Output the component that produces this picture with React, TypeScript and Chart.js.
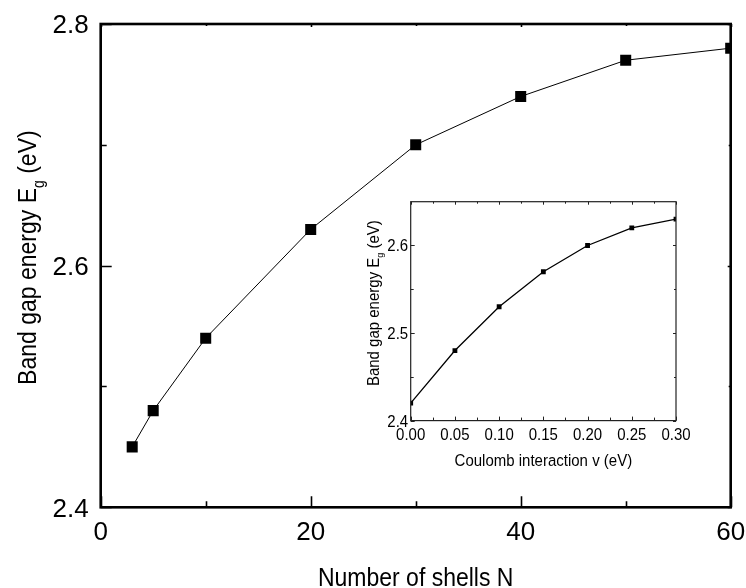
import React, { useEffect, useRef } from "react";
import { Chart, registerables } from "chart.js";

Chart.register(...registerables);

// Band gap vs. number of shells (main plot)
const shellCounts = [3, 5, 10, 20, 30, 40, 50, 60];
const gapByShells = [2.45, 2.48, 2.54, 2.63, 2.7, 2.74, 2.77, 2.78];

// Band gap vs. Coulomb interaction (inset)
const coulombV = [0, 0.05, 0.1, 0.15, 0.2, 0.25, 0.3];
const gapByCoulomb = [2.42, 2.48, 2.53, 2.57, 2.6, 2.62, 2.63];

// Tick values
const mainXMajor = [0, 20, 40, 60];
const mainXMinor = [10, 30, 50];
const mainYMajor = [2.4, 2.6, 2.8];
const mainYMinor = [2.5, 2.7];
const insetXMajor = [0, 0.05, 0.1, 0.15, 0.2, 0.25, 0.3];
const insetXMinor = [0.025, 0.075, 0.125, 0.175, 0.225, 0.275];
const insetYMajor = [2.4, 2.5, 2.6];
const insetYMinor = [2.45, 2.55];

const FONT = '"Liberation Sans", Arial, Helvetica, sans-serif';

type TextPart = { text: string; size: number; dy: number };

interface AxesStyle {
  frameWidth: number;
  frameColor: string;
  tickWidth: number;
  majorLen: number;
  minorLen: number;
  oppMajorLen: number;
  oppMinorLen: number;
  xMajor: number[];
  xMinor: number[];
  yMajor: number[];
  yMinor: number[];
  xDigits: number;
  yDigits: number;
  tickFont: number;
  textScaleY: number;
  titleScaleY: number;
  xLabelGap: number; // baseline distance below the bottom axis
  yLabelGap: number; // right edge distance left of the left axis
  xTitle: TextPart[];
  yTitle: TextPart[];
  xTitleBaseline: number; // distance of baseline below the bottom axis
  yTitleBaseline: number; // x position (canvas) of rotated baseline
  yTitleShift: number; // vertical shift of the rotated title's centre
}

function partsWidth(ctx: CanvasRenderingContext2D, parts: TextPart[]) {
  let w = 0;
  for (const p of parts) {
    ctx.font = `${p.size}px ${FONT}`;
    w += ctx.measureText(p.text).width;
  }
  return w;
}

function drawParts(ctx: CanvasRenderingContext2D, parts: TextPart[]) {
  const total = partsWidth(ctx, parts);
  let x = -total / 2;
  for (const p of parts) {
    ctx.font = `${p.size}px ${FONT}`;
    ctx.fillText(p.text, x, p.dy);
    x += ctx.measureText(p.text).width;
  }
}

function makeAxesPlugin(s: AxesStyle) {
  return {
    id: "framedAxes",
    afterDatasetsDraw(chart: any) {
      const { ctx, chartArea: a, scales } = chart;
      const sx = scales.x;
      const sy = scales.y;
      ctx.save();
      ctx.strokeStyle = s.frameColor;
      ctx.fillStyle = "#000";

      // inward ticks on all four sides
      ctx.lineWidth = s.tickWidth;
      ctx.beginPath();
      const xTicks = (vals: number[], len: number, opp: number) => {
        for (const v of vals) {
          const px = Math.round(sx.getPixelForValue(v)) + 0.5;
          ctx.moveTo(px, a.bottom);
          ctx.lineTo(px, a.bottom - len);
          if (opp > 0) {
            ctx.moveTo(px, a.top);
            ctx.lineTo(px, a.top + opp);
          }
        }
      };
      const yTicks = (vals: number[], len: number, opp: number) => {
        for (const v of vals) {
          const py = Math.round(sy.getPixelForValue(v)) + 0.5;
          ctx.moveTo(a.left, py);
          ctx.lineTo(a.left + len, py);
          if (opp > 0) {
            ctx.moveTo(a.right, py);
            ctx.lineTo(a.right - opp, py);
          }
        }
      };
      xTicks(s.xMajor, s.majorLen, s.oppMajorLen);
      xTicks(s.xMinor, s.minorLen, s.oppMinorLen);
      yTicks(s.yMajor, s.majorLen, s.oppMajorLen);
      yTicks(s.yMinor, s.minorLen, s.oppMinorLen);
      ctx.stroke();

      // frame
      ctx.lineWidth = s.frameWidth;
      ctx.strokeRect(a.left, a.top, a.right - a.left, a.bottom - a.top);

      // tick labels
      ctx.font = `${s.tickFont}px ${FONT}`;
      ctx.textBaseline = "alphabetic";
      ctx.textAlign = "center";
      for (const v of s.xMajor) {
        const px = sx.getPixelForValue(v);
        ctx.save();
        ctx.translate(px, a.bottom + s.xLabelGap);
        ctx.scale(1, s.textScaleY);
        ctx.fillText(v.toFixed(s.xDigits), 0, 0);
        ctx.restore();
      }
      ctx.textAlign = "right";
      const half = s.tickFont * 0.36 * s.textScaleY;
      for (const v of s.yMajor) {
        const py = sy.getPixelForValue(v);
        ctx.save();
        ctx.translate(a.left - s.yLabelGap, py + half);
        ctx.scale(1, s.textScaleY);
        ctx.fillText(v.toFixed(s.yDigits), 0, 0);
        ctx.restore();
      }

      // axis titles
      ctx.textAlign = "left";
      ctx.save();
      ctx.translate((a.left + a.right) / 2, a.bottom + s.xTitleBaseline);
      ctx.scale(1, s.titleScaleY);
      drawParts(ctx, s.xTitle);
      ctx.restore();

      ctx.save();
      ctx.translate(s.yTitleBaseline, (a.top + a.bottom) / 2 + s.yTitleShift);
      ctx.rotate(-Math.PI / 2);
      ctx.scale(1, s.titleScaleY);
      drawParts(ctx, s.yTitle);
      ctx.restore();

      ctx.restore();
    },
  };
}

export default function App() {
  const mainRef = useRef<HTMLCanvasElement>(null);
  const insetRef = useRef<HTMLCanvasElement>(null);

  useEffect(() => {
    const mainPlugin = makeAxesPlugin({
      frameWidth: 2.6,
      frameColor: "#000",
      tickWidth: 1.6,
      majorLen: 11,
      minorLen: 6,
      oppMajorLen: 3,
      oppMinorLen: 2,
      xMajor: mainXMajor,
      xMinor: mainXMinor,
      yMajor: mainYMajor,
      yMinor: mainYMinor,
      xDigits: 0,
      yDigits: 1,
      tickFont: 26,
      textScaleY: 1,
      titleScaleY: 1.13,
      xLabelGap: 33,
      yLabelGap: 12,
      xTitle: [{ text: "Number of shells N", size: 23, dy: 0 }],
      yTitle: [
        { text: "Band gap energy E", size: 23, dy: 0 },
        { text: "g", size: 14, dy: 7 },
        { text: " (eV)", size: 23, dy: 0 },
      ],
      xTitleBaseline: 79,
      yTitleBaseline: 36,
      yTitleShift: -8,
    });

    const main = new Chart(mainRef.current!, {
      type: "line",
      data: {
        labels: shellCounts,
        datasets: [
          {
            data: shellCounts.map((n, i) => ({ x: n, y: gapByShells[i] })),
            borderColor: "#000",
            borderWidth: 1,
            backgroundColor: "#000",
            pointStyle: "rect",
            pointRadius: 7.8,
            pointBorderWidth: 0,
            pointBackgroundColor: "#000",
            tension: 0,
            clip: { left: 12, top: 12, right: 0, bottom: 12 },
          },
        ],
      },
      options: {
        animation: false,
        responsive: false,
        devicePixelRatio: 1,
        layout: { padding: { left: 100.7, top: 24, right: 15.3, bottom: 80.7 } },
        plugins: { legend: { display: false }, tooltip: { enabled: false } },
        events: [],
        scales: {
          x: { type: "linear", min: 0, max: 60, display: false },
          y: { type: "linear", min: 2.4, max: 2.8, display: false },
        },
      },
      plugins: [mainPlugin],
    });

    const insetPlugin = makeAxesPlugin({
      frameWidth: 1.2,
      frameColor: "#222",
      tickWidth: 1,
      majorLen: 4,
      minorLen: 3,
      oppMajorLen: 3,
      oppMinorLen: 2,
      xMajor: insetXMajor,
      xMinor: insetXMinor,
      yMajor: insetYMajor,
      yMinor: insetYMinor,
      xDigits: 2,
      yDigits: 1,
      tickFont: 15,
      textScaleY: 1.1,
      titleScaleY: 1.1,
      xLabelGap: 19,
      yLabelGap: 2.5,
      xTitle: [{ text: "Coulomb interaction v (eV)", size: 15, dy: 0 }],
      yTitle: [
        { text: "Band gap energy E", size: 15, dy: 0 },
        { text: "g", size: 9, dy: 4 },
        { text: " (eV)", size: 15, dy: 0 },
      ],
      xTitleBaseline: 45,
      yTitleBaseline: 39,
      yTitleShift: -8,
    });

    const inset = new Chart(insetRef.current!, {
      type: "line",
      data: {
        labels: coulombV,
        datasets: [
          {
            data: coulombV.map((v, i) => ({ x: v, y: gapByCoulomb[i] })),
            borderColor: "#000",
            borderWidth: 1.3,
            backgroundColor: "#000",
            pointStyle: "rect",
            pointRadius: 3.4,
            pointBorderWidth: 0,
            pointBackgroundColor: "#000",
            tension: 0,
            clip: 0,
          },
        ],
      },
      options: {
        animation: false,
        responsive: false,
        devicePixelRatio: 1,
        layout: { padding: { left: 70.7, top: 11.7, right: 14, bottom: 64.4 } },
        plugins: { legend: { display: false }, tooltip: { enabled: false } },
        events: [],
        scales: {
          x: { type: "linear", min: 0, max: 0.3, display: false },
          y: { type: "linear", min: 2.4, max: 2.65, display: false },
        },
      },
      plugins: [insetPlugin],
    });

    return () => {
      main.destroy();
      inset.destroy();
    };
  }, []);

  return (
    <div
      style={{
        position: "absolute",
        left: 0,
        top: 0,
        width: 746,
        height: 588,
        background: "#fff",
        overflow: "hidden",
      }}
    >
      <canvas
        ref={mainRef}
        width={746}
        height={588}
        style={{ position: "absolute", left: 0, top: 0, width: 746, height: 588 }}
      />
      <canvas
        ref={insetRef}
        width={350}
        height={295}
        style={{ position: "absolute", left: 340, top: 190, width: 350, height: 295 }}
      />
    </div>
  );
}
